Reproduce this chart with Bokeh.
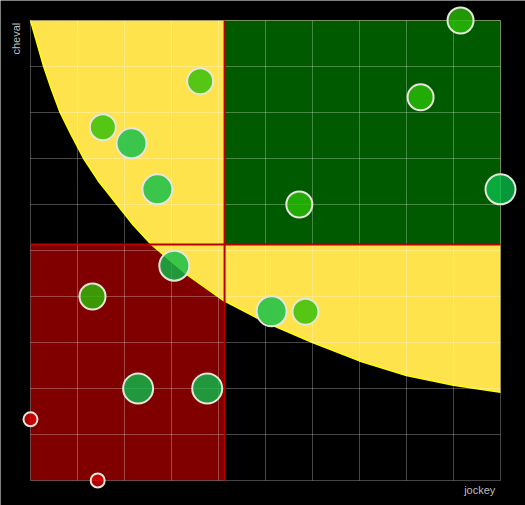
import math
from bokeh.plotting import figure
from bokeh.models import Range1d, Label
from bokeh.embed import file_html
from bokeh.resources import INLINE


# horses: x = jockey score, y = horse (cheval) score
jockey = [9.15, 3.61, 8.30, 1.54, 2.15, 2.70, 5.72, 10.0, 3.06, 1.32, 5.13, 5.85, 2.29, 3.76, 0.0, 1.43]
cheval = [10.0, 8.68, 8.33, 7.68, 7.33, 6.33, 6.00, 6.33, 4.67, 4.00, 3.68, 3.67, 2.00, 2.00, 1.33, 0.0]
groupe = ['b', 'b', 'b', 'b', 'a', 'a', 'b', 'a', 'a', 'b', 'a', 'b', 'a', 'a', 'c', 'c']

# threshold curve
seuil_x = [0, 0.13, 0.28, 0.44, 0.63, 0.87, 1.13, 1.46, 1.84, 2.19, 2.55, 3.3, 4.11,
           5.0, 6.0, 7.0, 8.0, 9.0, 10]
seuil_y = [10, 9.54, 9.0, 8.52, 8.0, 7.51, 7.0, 6.49, 6.0, 5.55, 5.15, 4.5, 3.91,
           3.44, 3.0, 2.6, 2.28, 2.07, 1.92]

# quadrant split
split_x = 4.13
split_y = 5.13

ticks = [0, 1, 2, 3, 4, 5, 6, 7, 8, 9, 10]

couleurs = {'a': '#0abe4b', 'b': '#2abe06', 'c': '#dd0000'}
tailles = {'a': 30, 'b': 26, 'c': 14}

p = figure(width=525, height=505,
           x_range=Range1d(-0.638, 10.532),
           y_range=Range1d(-0.543, 10.435),
           x_axis_type=None, y_axis_type=None,
           min_border=0,
           background_fill_color='black',
           border_fill_color='black',
           outline_line_color=None,
           toolbar_location=None,
           output_backend='svg')
p.xgrid.visible = False
p.ygrid.visible = False

lo, hi = ticks[0], ticks[-1]

# zones
p.quad(left=[lo], right=[split_x], bottom=[lo], top=[split_y],
       fill_color='#800000', line_color=None)
p.patch(seuil_x + [hi], seuil_y + [hi], fill_color='#ffe34d', line_color=None)
p.quad(left=[split_x], right=[hi], bottom=[split_y], top=[hi],
       fill_color='#005a00', line_color=None)
p.line(seuil_x, seuil_y, line_color='#ffff00', line_width=1.5)

# grid
p.segment(x0=ticks, y0=[lo] * len(ticks), x1=ticks, y1=[hi] * len(ticks),
          line_color='white', line_alpha=0.28, line_width=1)
p.segment(x0=[lo] * len(ticks), y0=ticks, x1=[hi] * len(ticks), y1=ticks,
          line_color='white', line_alpha=0.28, line_width=1)

# split lines
p.segment(x0=[split_x, lo], y0=[lo, split_y], x1=[split_x, hi], y1=[hi, split_y],
          line_color='#b80000', line_width=2)

p.scatter(jockey, cheval, marker='circle',
          size=[tailles[g] for g in groupe],
          fill_color=[couleurs[g] for g in groupe], fill_alpha=0.8,
          line_color='#e6e6dc', line_width=2)

p.add_layout(Label(x=-0.31, y=9.95, text='cheval', angle=math.pi / 2,
                   text_align='right', text_baseline='middle',
                   text_font='Liberation Sans', text_font_size='11px',
                   text_color='#bfbfbf'))
p.add_layout(Label(x=9.89, y=-0.21, text='jockey',
                   text_align='right', text_baseline='middle',
                   text_font='Liberation Sans', text_font_size='11px',
                   text_color='#bfbfbf'))

open("out.html", "w").write(file_html(p, INLINE))
